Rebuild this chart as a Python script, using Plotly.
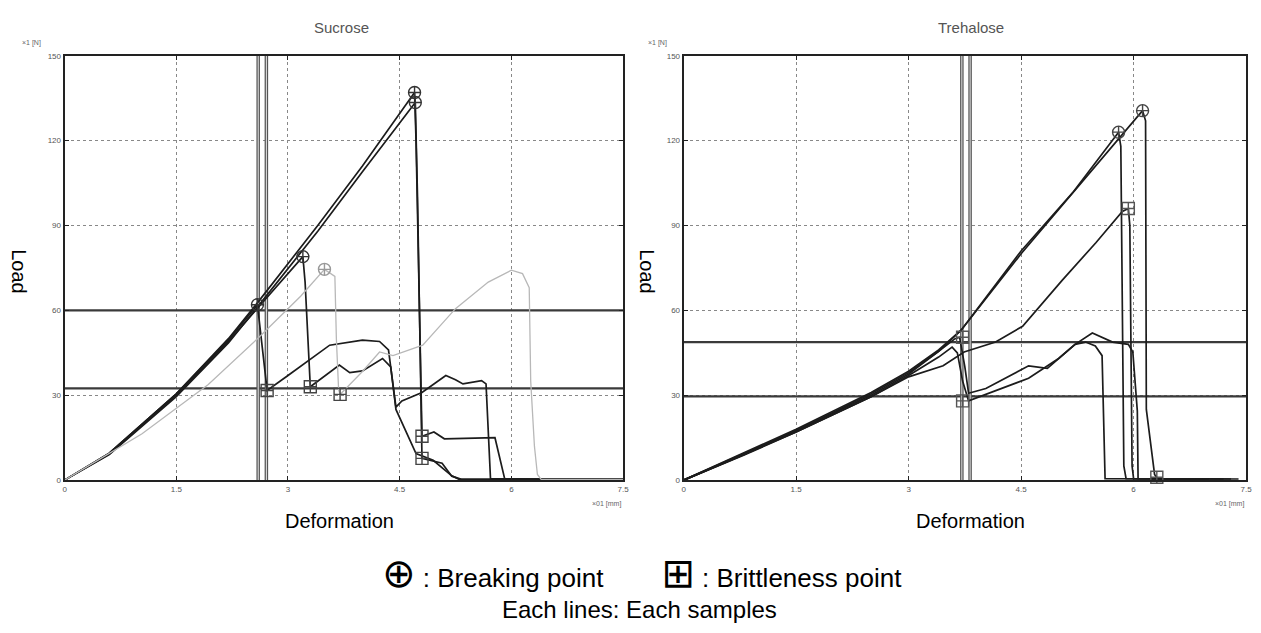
import plotly.graph_objects as go

# ---------------- data ----------------
x_ticks = [0, 1.5, 3, 4.5, 6, 7.5]
x_tick_labels = ["0", "1.5", "3", "4.5", "6", "7.5"]
y_ticks = [0, 30, 60, 90, 120, 150]
y_tick_labels = ["0", "30", "60", "90", "120", "150"]

# Sucrose samples
suc1_x = [0, 0.6, 1.5, 2.2, 2.6, 3.4, 4.0, 4.70, 4.72, 4.80, 4.96, 5.1, 5.78, 5.91, 6.2, 7.5]
suc1_y = [0, 9.5, 30.5, 50, 63, 90, 111, 137, 120, 15.5, 17, 14.6, 15, 0.5, 0.3, 0.3]
suc2_x = [0, 0.6, 1.5, 2.2, 2.6, 3.4, 4.0, 4.71, 4.74, 4.80, 5.07, 5.2, 5.33, 7.5]
suc2_y = [0, 9, 29.5, 48.5, 61.5, 88, 109, 133.5, 100, 7.7, 6, 1.4, 0.3, 0.3]
suc3_x = [0, 0.6, 1.5, 2.2, 2.59, 2.62, 2.72, 3.0, 3.56, 4.0, 4.23, 4.35, 4.45, 4.53, 4.8, 5.12, 5.25, 5.35, 5.6, 5.66, 5.72, 7.5]
suc3_y = [0, 9.5, 30.5, 49.5, 62, 55, 31.7, 37, 47.7, 49.5, 49, 46, 25.8, 28, 31, 37, 35.5, 34, 35.2, 34, 0.5, 0.3]
suc4_x = [0, 0.6, 1.5, 2.2, 2.6, 3.2, 3.23, 3.30, 3.69, 3.83, 4.0, 4.27, 4.38, 4.45, 4.72, 4.95, 5.2, 5.3, 7.5]
suc4_y = [0, 9.2, 30, 49, 61, 79, 70, 33, 40.7, 38, 38.6, 43, 40, 25, 9.4, 7, 1.5, 0.3, 0.3]
suc5_x = [0, 0.15, 1.04, 1.93, 2.59, 3.17, 3.49, 3.63, 3.65, 3.68, 3.70, 4.0, 4.23, 4.41, 4.81, 5.25, 5.69, 6.0, 6.15, 6.24, 6.26, 6.31, 6.35, 6.4, 7.5]
suc5_y = [0, 2.4, 16.4, 33.8, 50, 65, 74.5, 72, 50, 32, 30.3, 38.4, 45.3, 44, 47.7, 60.6, 70, 74.2, 73, 68, 35, 12, 2, 0.3, 0.3]

suc_break_x = [4.70, 4.71, 3.20, 2.59]
suc_break_y = [137, 133.5, 79, 62]
suc_break_gray_x = [3.49]
suc_break_gray_y = [74.5]
suc_brit_x = [2.72, 3.30, 3.70, 4.80, 4.80]
suc_brit_y = [31.7, 33, 30.3, 15.5, 7.7]
suc_hlines = [60, 32.4]
suc_vlines = [2.60, 2.71]

# Trehalose samples
tre1_x = [0, 0.8, 1.5, 2.5, 3.0, 3.4, 3.7, 4.5, 5.3, 6.12, 6.16, 6.17, 6.28, 6.32, 7.3]
tre1_y = [0, 9.5, 18, 31, 38.5, 46, 53, 80, 105, 130.6, 127, 25, 2, 0.5, 0.4]
tre2_x = [0, 0.8, 1.5, 2.5, 3.0, 3.4, 3.7, 4.5, 5.2, 5.80, 5.83, 5.87, 5.9, 7.2]
tre2_y = [0, 9, 17.5, 30, 37.5, 45.5, 53, 81, 102, 123, 118, 5, 0.5, 0.4]
tre3_x = [0, 0.8, 1.5, 2.5, 3.0, 3.46, 3.74, 4.16, 4.52, 5.05, 5.5, 5.85, 5.93, 5.95, 5.98, 6.0, 7.0]
tre3_y = [0, 8.8, 17, 29.5, 36.5, 40.4, 45.3, 48.8, 54.4, 70.7, 84, 95, 96, 90, 5, 0.5, 0.4]
tre4_x = [0, 0.8, 1.5, 2.5, 3.0, 3.4, 3.62, 3.68, 3.75, 3.8, 4.03, 4.6, 4.85, 5.22, 5.45, 5.72, 5.93, 5.99, 6.05, 6.06, 7.4]
tre4_y = [0, 9.2, 17.5, 30.5, 38, 45.5, 50, 50.5, 40, 30.7, 32.4, 40.4, 39.5, 48, 52, 48.8, 48, 45.3, 24.4, 0.5, 0.4]
tre5_x = [0, 0.8, 1.5, 2.5, 3.0, 3.4, 3.58, 3.65, 3.72, 3.8, 4.2, 4.6, 5.0, 5.22, 5.36, 5.49, 5.58, 5.62, 7.0]
tre5_y = [0, 9, 17, 29.5, 37, 43.5, 47, 45, 35, 28, 32, 36, 43, 48, 48.8, 47.4, 44, 0.5, 0.4]

tre_break_x = [6.12, 5.80]
tre_break_y = [130.6, 123]
tre_brit_x = [5.93, 3.72, 3.72, 6.31, 6.00]
tre_brit_y = [96, 50.5, 28, 1, -2]
tre_hlines = [48.8, 29.6]
tre_vlines = [3.71, 3.82]

# ---------------- figure ----------------
fig = go.Figure()
dark = "#1c1c1c"
gray = "#b8b8b8"

def add_curve(x, y, xa, ya, color=dark, width=1.7):
    fig.add_trace(go.Scatter(x=x, y=y, mode="lines", xaxis=xa, yaxis=ya,
                             line=dict(color=color, width=width),
                             showlegend=False, hoverinfo="skip"))

def add_markers(x, y, xa, ya, symbol, color=dark):
    fig.add_trace(go.Scatter(x=x, y=y, mode="markers", xaxis=xa, yaxis=ya,
                             marker=dict(symbol=symbol, size=12, color=color,
                                         line=dict(color=color, width=1.4)),
                             cliponaxis=False, showlegend=False, hoverinfo="skip"))

for sx, sy in [(suc1_x, suc1_y), (suc2_x, suc2_y), (suc3_x, suc3_y), (suc4_x, suc4_y)]:
    add_curve(sx, sy, "x", "y")
add_curve(suc5_x, suc5_y, "x", "y", color=gray, width=1.3)
add_markers(suc_break_x, suc_break_y, "x", "y", "circle-cross-open", "#333")
add_markers(suc_break_gray_x, suc_break_gray_y, "x", "y", "circle-cross-open", "#999")
add_markers(suc_brit_x, suc_brit_y, "x", "y", "square-cross-open", "#444")

for tx, ty in [(tre1_x, tre1_y), (tre2_x, tre2_y), (tre3_x, tre3_y), (tre4_x, tre4_y), (tre5_x, tre5_y)]:
    add_curve(tx, ty, "x2", "y2")
add_markers(tre_break_x, tre_break_y, "x2", "y2", "circle-cross-open", "#444")
add_markers(tre_brit_x, tre_brit_y, "x2", "y2", "square-cross-open", "#555")

shapes = []
for xr, yr, hl, vl in [("x", "y", suc_hlines, suc_vlines), ("x2", "y2", tre_hlines, tre_vlines)]:
    for h in hl:
        shapes.append(dict(type="line", xref=xr, yref=yr, x0=0, x1=7.5, y0=h, y1=h,
                           line=dict(color="#3a3a3a", width=2.2), layer="between"))
    for v in vl:
        shapes.append(dict(type="line", xref=xr, yref=yr, x0=v, x1=v, y0=0, y1=150,
                           line=dict(color="#555555", width=3.5), layer="between"))
        shapes.append(dict(type="line", xref=xr, yref=yr, x0=v, x1=v, y0=0, y1=150,
                           line=dict(color="#e8e8e8", width=1), layer="between"))

axis_common = dict(range=[0, 7.5], tickvals=x_ticks, ticktext=x_tick_labels,
                   showgrid=True, gridcolor="#888888", griddash="dot", gridwidth=1,
                   showline=True, linecolor="#222", linewidth=2, mirror="allticks",
                   ticks="inside", ticklen=4, tickcolor="#222",
                   tickfont=dict(family="Liberation Sans", size=8, color="#555"),
                   zeroline=False, fixedrange=True)
yaxis_common = dict(range=[0, 150], tickvals=y_ticks, ticktext=y_tick_labels,
                    showgrid=True, gridcolor="#888888", griddash="dot", gridwidth=1,
                    showline=True, linecolor="#222", linewidth=2, mirror="allticks",
                    ticks="inside", ticklen=4, tickcolor="#222",
                    tickfont=dict(family="Liberation Sans", size=8, color="#555"),
                    zeroline=False, fixedrange=True)

W, H = 1261, 633
def px(xp):
    return xp / W
def py(yp):
    return 1 - yp / H

fig.update_layout(
    width=W, height=H,
    margin=dict(l=0, r=0, t=0, b=0),
    paper_bgcolor="white", plot_bgcolor="white",
    xaxis=dict(domain=[px(63), px(625)], anchor="y", **axis_common),
    yaxis=dict(domain=[py(483), py(52.5)], anchor="x", **yaxis_common),
    xaxis2=dict(domain=[px(686), px(1252)], anchor="y2", **axis_common),
    yaxis2=dict(domain=[py(483), py(52.5)], anchor="x2", **yaxis_common),
    shapes=shapes,
    showlegend=False,
)

ann = []
def text(s, x, y, size, color="#000", angle=0, xanchor="center", family="Liberation Sans"):
    ann.append(dict(text=s, x=px(x), y=py(y), xref="paper", yref="paper", showarrow=False,
                    font=dict(family=family, size=size, color=color), textangle=angle,
                    xanchor=xanchor, yanchor="middle"))

text("Sucrose", 342, 24, 15, "#555")
text("Trehalose", 975, 24, 15, "#555")
text("Load", 17, 272, 20, "#000", angle=90)
text("Load", 649, 272, 20, "#000", angle=90)
text("Deformation", 340, 524, 20)
text("Deformation", 975, 524, 20)
text("×1 [N]", 30, 40, 7, "#666")
text("×1 [N]", 660, 40, 7, "#666")
text("×01 [mm]", 608, 507, 7, "#666")
text("×01 [mm]", 1235, 507, 7, "#666")

sym_style = "font-family:'DejaVu Sans';font-size:40px"
nb = "&nbsp;"
legend_line = (f"<span style=\"{sym_style}\">⊕</span>{nb}:{nb}Breaking point" + nb * 8 +
               f"<span style=\"{sym_style}\">⊞</span>{nb}:{nb}Brittleness point")
text(legend_line, 644, 577, 26)
text("Each lines: Each samples", 642, 614, 24)
fig.update_layout(annotations=ann)

fig.write_html("out.html")
